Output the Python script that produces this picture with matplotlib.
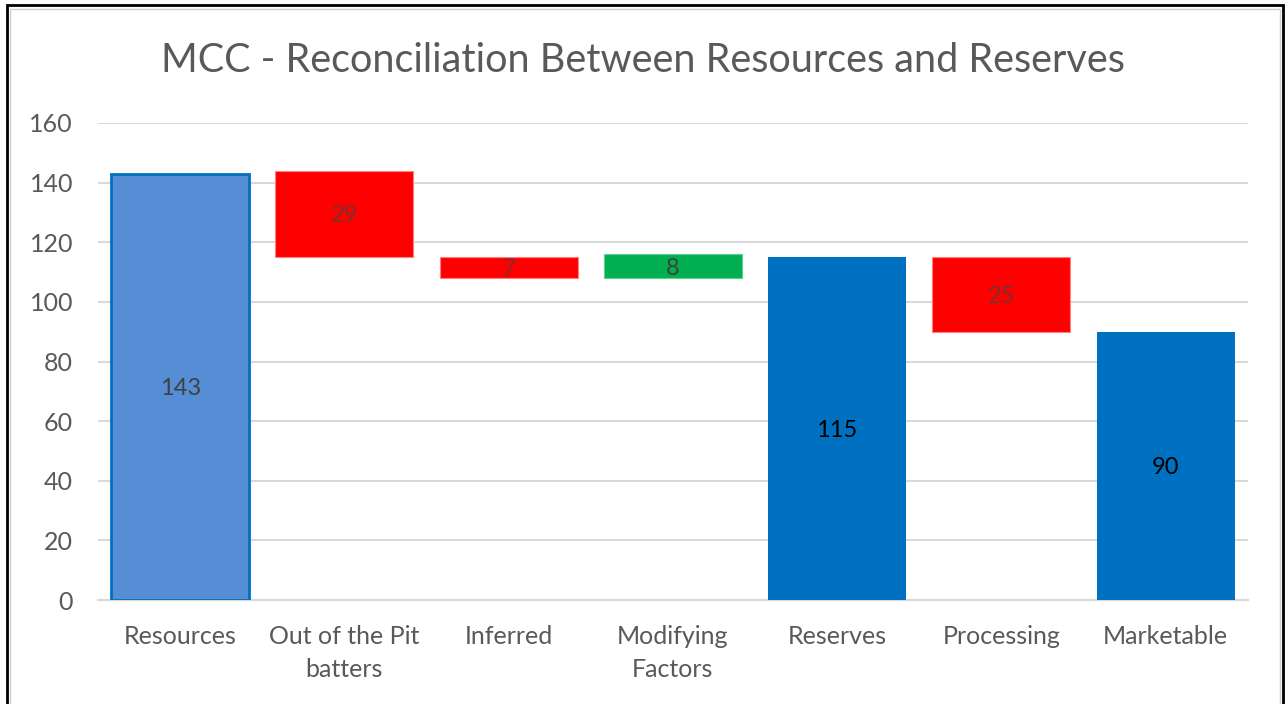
import matplotlib.pyplot as plt
from matplotlib.patches import Rectangle

plt.rcParams['font.family'] = ['Lato', 'DejaVu Sans']

# waterfall data
categories = ['Resources', 'Out of the Pit\nbatters', 'Inferred', 'Modifying\nFactors',
              'Reserves', 'Processing', 'Marketable']
values = [143, 29, 7, 8, 115, 25, 90]
bases = [0, 115, 108, 108, 0, 90, 0]
yticks = [0, 20, 40, 60, 80, 100, 120, 140, 160]

colors = ['#558ED5', '#FF0000', '#FF0000', '#00B050', '#0070C0', '#FF0000', '#0070C0']
edges = ['#0070C0', '#FF8080', '#FF8080', '#60D090', '#0070C0', '#FF8080', '#0070C0']
label_colors = ['#404040', '#7A3030', '#7A3030', '#404040', '#000000', '#7A3030', '#000000']

fig = plt.figure(figsize=(12.85, 7.04), dpi=100)
ax = fig.add_axes([0.0763, 0.1477, 0.8947, 0.6776])

x = range(len(categories))
bars = ax.bar(x, values, bottom=bases, width=0.84, color=colors, edgecolor=edges,
              linewidth=[2, 0.8, 0.8, 0.8, 0, 0.8, 0], zorder=3)

for i, b in enumerate(bars):
    ax.text(b.get_x() + b.get_width() / 2, bases[i] + values[i] / 2, str(values[i]),
            ha='center', va='center_baseline', fontsize=17, color=label_colors[i], zorder=4)

ax.set_xlim(-0.5, len(categories) - 0.5)
ax.set_ylim(0, 160)
ax.set_yticks(yticks)
ax.set_xticks(list(x))
ax.set_xticklabels(categories, linespacing=1.5)
ax.grid(axis='y', color='#D9D9D9', linewidth=1.5, zorder=0)
for s in ['top', 'right', 'left']:
    ax.spines[s].set_visible(False)
ax.spines['bottom'].set_color('#D9D9D9')
ax.spines['bottom'].set_linewidth(1.5)
ax.tick_params(axis='both', length=0, labelsize=18, labelcolor='#595959')
ax.tick_params(axis='y', pad=18)
ax.tick_params(axis='x', pad=18)

fig.text(0.5, 0.914, 'MCC - Reconciliation Between Resources and Reserves',
         ha='center', va='center', fontsize=28.5, color='#595959')

# frame around the chart
fig.patches.append(Rectangle((7 / 1285, -0.05), 1276 / 1285, 1.05 - 5 / 704,
                             transform=fig.transFigure, fill=False,
                             edgecolor='black', linewidth=2))
fig.patches.append(Rectangle((10 / 1285, -0.05), 1270 / 1285, 1.05 - 9 / 704,
                             transform=fig.transFigure, fill=False,
                             edgecolor='#D0D0D0', linewidth=1))

fig.savefig('out.png', dpi=100)
